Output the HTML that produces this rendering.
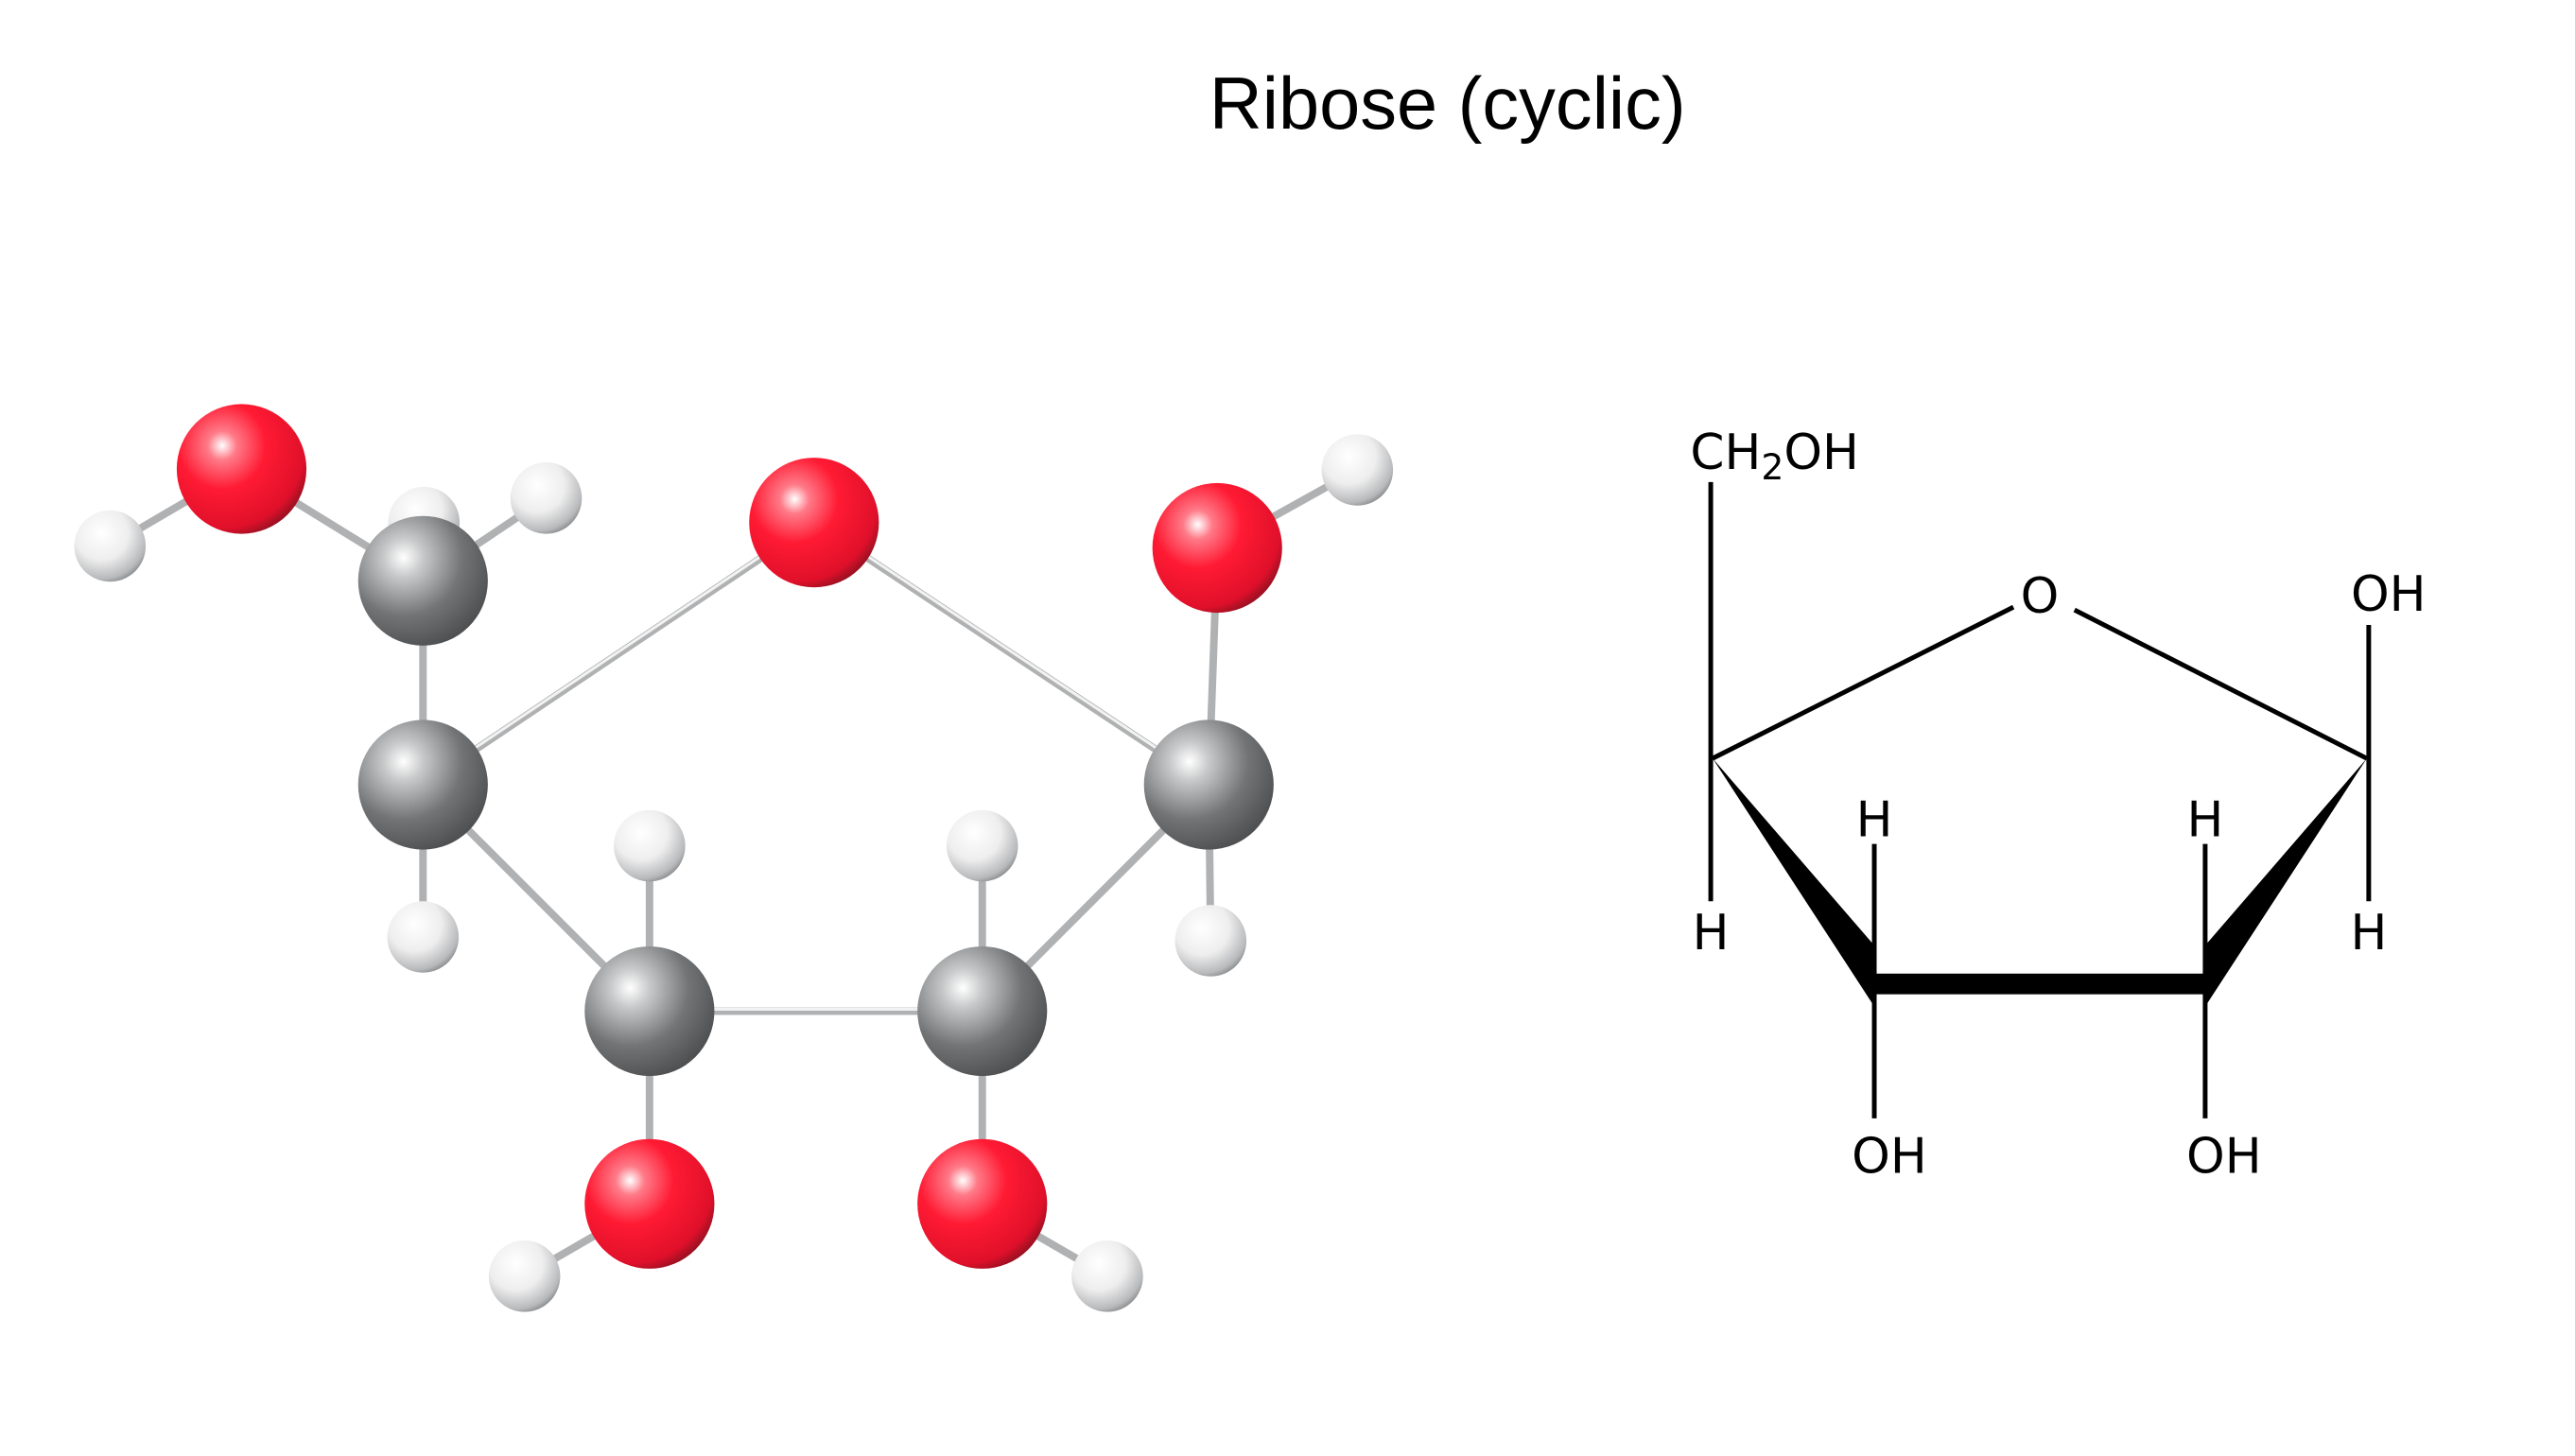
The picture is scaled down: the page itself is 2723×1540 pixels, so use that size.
<!DOCTYPE html>
<html><head><meta charset="utf-8"><style>
html,body{margin:0;padding:0;background:#fff;}
svg{display:block;}
</style></head><body>
<svg width="2723" height="1540" viewBox="0 0 2739.4 1549.3" preserveAspectRatio="xMinYMin meet" xmlns="http://www.w3.org/2000/svg">
<defs>
<radialGradient id="gR" cx="0.35" cy="0.32" r="0.75">
<stop offset="0" stop-color="#fff"/><stop offset="0.15" stop-color="#ff7a88"/><stop offset="0.45" stop-color="#ff1a33"/><stop offset="0.85" stop-color="#e0102a"/><stop offset="1" stop-color="#8a1020"/></radialGradient>
<radialGradient id="gC" cx="0.35" cy="0.32" r="0.75">
<stop offset="0" stop-color="#fff"/><stop offset="0.2" stop-color="#c8c9ca"/><stop offset="0.6" stop-color="#727476"/><stop offset="1" stop-color="#4a4c4e"/></radialGradient>
<radialGradient id="gH" cx="0.38" cy="0.32" r="0.75">
<stop offset="0" stop-color="#fff"/><stop offset="0.5" stop-color="#eeeeee"/><stop offset="0.85" stop-color="#b8b9bb"/><stop offset="1" stop-color="#7a7c7e"/></radialGradient>
</defs>
<text x="1540" y="137" font-family="Liberation Sans, sans-serif" font-size="78" text-anchor="middle" fill="#000">Ribose (cyclic)</text>
<g stroke="#b0b1b2" stroke-width="8" stroke-linecap="round">
<line x1="117" y1="581" x2="257" y2="499"/>
<line x1="257" y1="499" x2="450" y2="618"/>
<line x1="581" y1="530" x2="450" y2="618"/>
<line x1="450" y1="618" x2="450" y2="835"/>
<line x1="450" y1="835" x2="866" y2="556"/>
<line x1="866" y1="556" x2="1286" y2="835"/>
<line x1="1295" y1="583" x2="1286" y2="835"/>
<line x1="1295" y1="583" x2="1444" y2="500"/>
<line x1="450" y1="835" x2="450" y2="997"/>
<line x1="1286" y1="835" x2="1288" y2="1001"/>
<line x1="450" y1="835" x2="691" y2="1076"/>
<line x1="1286" y1="835" x2="1045" y2="1076"/>
<line x1="691" y1="1076" x2="1045" y2="1076"/>
<line x1="691" y1="900" x2="691" y2="1281"/>
<line x1="1045" y1="900" x2="1045" y2="1281"/>
<line x1="691" y1="1281" x2="558" y2="1358"/>
<line x1="1045" y1="1281" x2="1178" y2="1358"/>
</g>
<g stroke="#f2f2f2" stroke-width="3" stroke-linecap="round">
<line x1="450" y1="833" x2="866" y2="554"/>
<line x1="866" y1="554" x2="1286" y2="833"/>
<line x1="691" y1="1074" x2="1045" y2="1074"/>
</g>
<circle cx="451" cy="556" r="38" fill="url(#gH)"/>
<circle cx="117" cy="581" r="38" fill="url(#gH)"/>
<circle cx="581" cy="530" r="38" fill="url(#gH)"/>
<circle cx="1444" cy="500" r="38" fill="url(#gH)"/>
<circle cx="450" cy="997" r="38" fill="url(#gH)"/>
<circle cx="1288" cy="1001" r="38" fill="url(#gH)"/>
<circle cx="691" cy="900" r="38" fill="url(#gH)"/>
<circle cx="1045" cy="900" r="38" fill="url(#gH)"/>
<circle cx="558" cy="1358" r="38" fill="url(#gH)"/>
<circle cx="1178" cy="1358" r="38" fill="url(#gH)"/>
<circle cx="257" cy="499" r="69" fill="url(#gR)"/>
<circle cx="866" cy="556" r="69" fill="url(#gR)"/>
<circle cx="1295" cy="583" r="69" fill="url(#gR)"/>
<circle cx="691" cy="1281" r="69" fill="url(#gR)"/>
<circle cx="1045" cy="1281" r="69" fill="url(#gR)"/>
<circle cx="450" cy="618" r="69" fill="url(#gC)"/>
<circle cx="450" cy="835" r="69" fill="url(#gC)"/>
<circle cx="1286" cy="835" r="69" fill="url(#gC)"/>
<circle cx="691" cy="1076" r="69" fill="url(#gC)"/>
<circle cx="1045" cy="1076" r="69" fill="url(#gC)"/>

<g stroke="#000" stroke-width="5" fill="none">
<line x1="1820" y1="513" x2="1820" y2="959"/>
<line x1="1822" y1="807" x2="2142" y2="646"/>
<line x1="2207" y1="649" x2="2518" y2="807"/>
<line x1="2520" y1="665" x2="2520" y2="959"/>
<line x1="1994" y1="898" x2="1994" y2="1190"/>
<line x1="2346" y1="898" x2="2346" y2="1190"/>
</g>
<polygon points="1822,807 1994,1006 1994,1071" fill="#000"/>
<polygon points="2518,807 2346,1006 2346,1071" fill="#000"/>
<rect x="1994" y="1036" width="352" height="22" fill="#000"/>
<g font-family="DejaVu Sans, Liberation Sans, sans-serif" font-size="52" fill="#000" text-anchor="middle">
<text x="1888" y="499">CH<tspan font-size="38" dy="11">2</tspan><tspan dy="-11">OH</tspan></text>
<text x="2170" y="652">O</text>
<text x="2541" y="650">OH</text>
<text x="1820" y="1010">H</text>
<text x="2520" y="1010">H</text>
<text x="1994" y="890">H</text>
<text x="2346" y="890">H</text>
<text x="2010" y="1248">OH</text>
<text x="2366" y="1248">OH</text>
</g>
</svg>
</body></html>
